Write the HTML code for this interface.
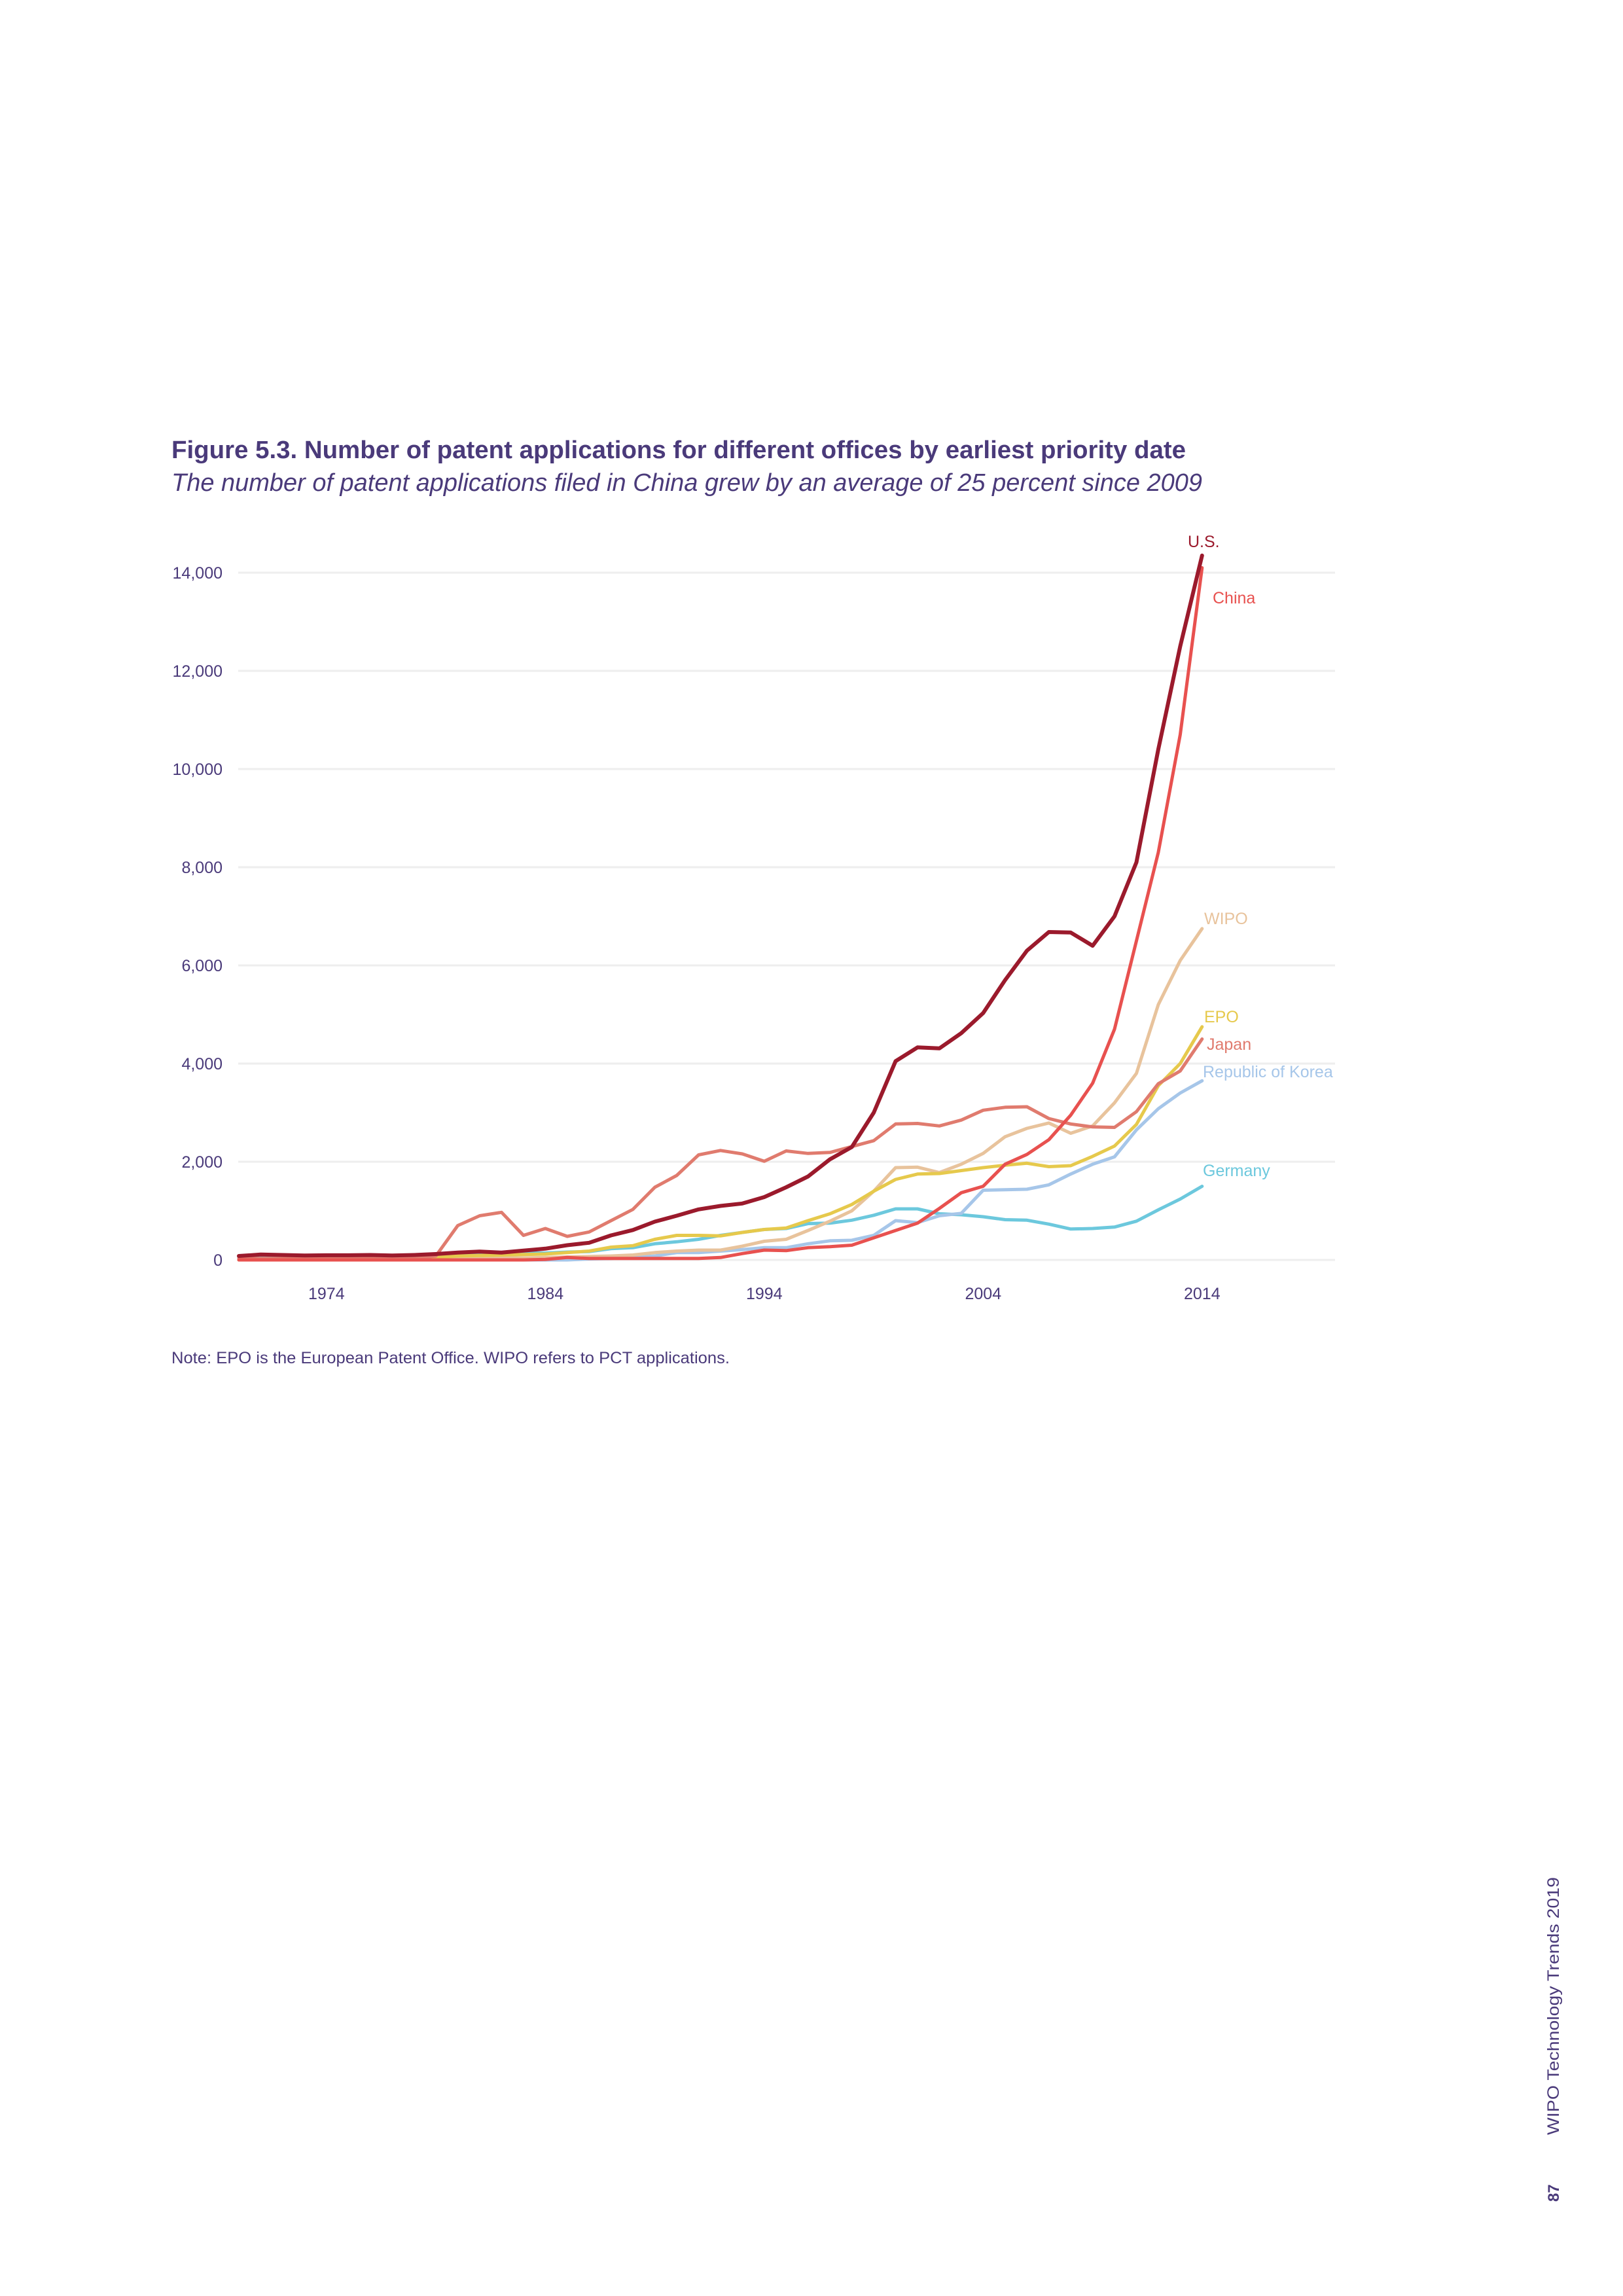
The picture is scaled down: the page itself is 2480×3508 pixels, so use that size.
<!DOCTYPE html>
<html><head><meta charset="utf-8"><style>
html,body{margin:0;padding:0;background:#fff}
body{width:2480px;height:3508px;position:relative;overflow:hidden;font-family:"Liberation Sans",sans-serif;color:#4a3a7a}
svg{position:absolute;left:0;top:0}
</style></head><body>
<svg id="chart" width="2480" height="3508" viewBox="0 0 2480 3508">
<text x="262" y="700" font-size="38" font-weight="bold" fill="#4a3a7a" font-family="Liberation Sans, sans-serif" textLength="1550" lengthAdjust="spacingAndGlyphs">Figure 5.3. Number of patent applications for different offices by earliest priority date</text>
<text x="262" y="750" font-size="38" font-style="italic" fill="#4a3a7a" font-family="Liberation Sans, sans-serif" textLength="1575" lengthAdjust="spacingAndGlyphs">The number of patent applications filed in China grew by an average of 25 percent since 2009</text>
<g id="grid"></g><g id="series"></g><g id="labels"></g>
<text x="262" y="2083" font-size="25" fill="#4a3a7a" font-family="Liberation Sans, sans-serif" textLength="853" lengthAdjust="spacingAndGlyphs">Note: EPO is the European Patent Office. WIPO refers to PCT applications.</text>
<text transform="translate(2382,3262) rotate(-90)" font-size="25" fill="#4a3a7a" font-family="Liberation Sans, sans-serif" textLength="394" lengthAdjust="spacingAndGlyphs">WIPO Technology Trends 2019</text>
<text transform="translate(2382,3364) rotate(-90)" font-size="24" font-weight="bold" fill="#4a3a7a" font-family="Liberation Sans, sans-serif">87</text>
</svg>
<script>
const years=[];for(let y=1970;y<=2014;y++)years.push(y);
const yTicks=[0,2000,4000,6000,8000,10000,12000,14000];
const yTickLabels=["0","2,000","4,000","6,000","8,000","10,000","12,000","14,000"];
const xTicks=[1974,1984,1994,2004,2014];
const usValues=[80,110,100,90,95,95,100,90,100,120,150,170,150,190,230,300,350,500,610,780,900,1030,1100,1150,1280,1480,1700,2050,2300,3000,4050,4330,4310,4620,5030,5700,6300,6680,6670,6400,7000,8100,10400,12500,14350];
const japanValues=[30,30,30,30,30,30,30,30,30,80,700,900,970,500,640,480,570,800,1030,1480,1720,2140,2230,2160,2010,2220,2170,2190,2310,2430,2770,2780,2730,2850,3050,3110,3120,2880,2770,2710,2700,3020,3590,3850,4500];
const chinaValues=[0,0,0,0,0,0,0,0,0,0,0,0,0,0,10,50,30,30,30,30,30,30,50,130,200,190,250,270,300,450,600,750,1050,1370,1500,1950,2150,2450,2950,3600,4700,6500,8300,10700,14100];
const wipoValues=[0,0,0,0,0,0,0,0,0,10,20,30,40,40,50,60,70,80,100,150,180,200,200,280,380,420,600,790,1000,1400,1880,1890,1780,1950,2170,2510,2680,2790,2580,2730,3200,3800,5200,6100,6750];
const epoValues=[0,0,0,0,0,0,0,0,0,50,80,90,100,110,120,150,180,260,290,420,500,500,490,560,620,650,800,940,1130,1400,1640,1750,1760,1820,1880,1930,1970,1900,1920,2110,2320,2760,3550,4000,4750];
const koreaValues=[0,0,0,0,0,0,0,0,0,0,0,0,0,0,0,0,20,30,50,80,150,150,180,210,250,250,330,390,400,500,800,760,900,950,1420,1430,1440,1530,1750,1950,2100,2650,3080,3400,3650];
const germanyValues=[40,70,60,50,50,50,50,50,60,80,100,130,130,140,140,160,170,230,250,330,370,420,500,560,620,640,740,750,810,910,1040,1040,940,920,880,820,810,730,630,640,670,790,1020,1240,1500];
const seriesNames=["Germany","Republic of Korea","WIPO","EPO","Japan","China","U.S."];

const NS="http://www.w3.org/2000/svg";
const X=y=>365+(y-1970)*33.45;
const Y=v=>1925-v*0.075;
function mk(tag,attrs,parent){const e=document.createElementNS(NS,tag);for(const k in attrs)e.setAttribute(k,attrs[k]);parent.appendChild(e);return e;}
const grid=document.getElementById('grid'),ser=document.getElementById('series'),lab=document.getElementById('labels');
yTicks.forEach((t,i)=>{
  const l=mk('line',{x1:364,x2:2040,y1:Y(t),y2:Y(t),stroke:'#eeeeee','stroke-width':3},grid);
  
  
  const tx=mk('text',{x:340,y:Y(t)+9,'text-anchor':'end','font-size':25,fill:'#4a3a7a'},grid);
  
  
  tx.textContent=yTickLabels[i];
});
xTicks.forEach(t=>{
  const tx=mk('text',{x:X(t),y:1985,'text-anchor':'middle','font-size':25,fill:'#4a3a7a'},grid);
  
  
  tx.textContent=t;
});
const defs=[
 [germanyValues,'#6cc8dd',5,'germany-line',"Germany",1838,1797],
 [koreaValues,'#a6c6e9',5,'korea-line',"Republic of Korea",1838,1646],
 [wipoValues,'#e8c39c',5,'wipo-line',"WIPO",1840,1412],
 [epoValues,'#e6c94c',5,'epo-line',"EPO",1840,1562],
 [japanValues,'#e07b6e',5,'japan-line',"Japan",1844,1604],
 [chinaValues,'#e8514f',5,'china-line',"China",1853,922],
 [usValues,'#9b1a2c',6,'us-line',"U.S.",1815,836]
];
defs.forEach(d=>{
  const pts=d[0].map((v,i)=>X(years[i]).toFixed(1)+','+Y(v).toFixed(1)).join(' ');
  const p=mk('polyline',{points:pts,fill:'none',stroke:d[1],'stroke-width':d[2],'stroke-linejoin':'round','stroke-linecap':'round'},ser);
  
  
  const t=mk('text',{x:d[5],y:d[6],'font-size':25,fill:d[1]},lab);
  
  
  t.textContent=d[4];
});
</script>
</body></html>
